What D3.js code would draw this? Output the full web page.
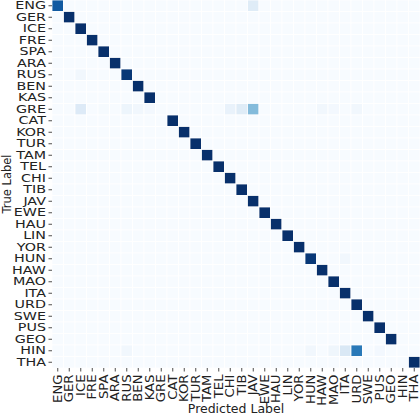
<!DOCTYPE html>
<html><head><meta charset="utf-8">
<script src="https://cdn.jsdelivr.net/npm/d3@7"></script>
<style>body{margin:0;background:#fff}svg{display:block}text{font-family:"DejaVu Sans",sans-serif}</style>
</head><body><svg id="c" width="420" height="416"></svg>
<script>
const labels = ["ENG","GER","ICE","FRE","SPA","ARA","RUS","BEN","KAS","GRE","CAT","KOR","TUR","TAM","TEL","CHI","TIB","JAV","EWE","HAU","LIN","YOR","HUN","HAW","MAO","ITA","URD","SWE","PUS","GEO","HIN","THA"];
// diagonal (correct) fraction per true label
const diagonal = [0.84,1,1,1,1,1,0.97,1,1,0,1,1,1,1,1,1,1,1,1,1,1,1,0.97,1,1,1,1,1,1,1,0,1];
// off-diagonal confusions: [true, predicted, fraction]
const confTrue = ["ENG","RUS","GRE","GRE","GRE","GRE","GRE","GRE","GRE","GRE","GRE","GRE","GRE","HUN","HIN","HIN","HIN","HIN","HIN","HIN"];
const confPred = ["JAV","ICE","ICE","RUS","BEN","KAS","CHI","TIB","JAV","HAW","MAO","URD","SPA","ITA","RUS","HUN","MAO","ITA","URD","PUS"];
const confVal  = [0.12,0.03,0.13,0.05,0.03,0.02,0.07,0.12,0.44,0.03,0.02,0.03,0.01,0.03,0.03,0.03,0.04,0.15,0.72,0.02];

const svg = d3.select("#c");
const x = d3.scaleBand().domain(labels).range([52,420]);
const y = d3.scaleBand().domain(labels).range([0,368]);
const color = d3.scaleSequential(d3.interpolateBlues).domain([0,1]);

const cells = [];
labels.forEach((t,i)=>labels.forEach((p,j)=>{
  cells.push({t,p,v: i===j ? diagonal[i] : 0});
}));
const idx = (t,p)=>labels.indexOf(t)*labels.length+labels.indexOf(p);
confTrue.forEach((t,k)=>{ cells[idx(t,confPred[k])].v = confVal[k]; });

svg.append("g").selectAll("rect").data(cells).join("rect")
  .attr("x",d=>x(d.p)).attr("y",d=>y(d.t))
  .attr("width",x.bandwidth()).attr("height",y.bandwidth())
  .attr("fill",d=>color(d.v))
  .attr("stroke","#fff").attr("stroke-width",0.8);

const ink = "#222";
const ya = svg.append("g").attr("transform","translate(52,0)")
  .call(d3.axisLeft(y).tickSize(3.5).tickPadding(2.5));
ya.select(".domain").remove();
ya.selectAll("line").attr("stroke",ink).attr("stroke-width",0.8);
ya.selectAll("text").attr("font-size",11).attr("fill",ink).attr("font-family","DejaVu Sans")
  .attr("x",0).attr("transform","translate(-6,0) scale(1.3,1)").attr("text-anchor","end");

const xa = svg.append("g").attr("transform","translate(0,368)")
  .call(d3.axisBottom(x).tickSize(3.5).tickPadding(2.5));
xa.select(".domain").remove();
xa.selectAll("line").attr("stroke",ink).attr("stroke-width",0.8);
xa.selectAll("text").attr("font-size",12).attr("fill",ink).attr("font-family","DejaVu Sans")
  .attr("transform","rotate(-90) scale(1.1,1)").attr("x",-6.5/1.1).attr("y",0).attr("dy","0.35em")
  .attr("text-anchor","end");

svg.append("text").attr("x",236).attr("y",413).attr("text-anchor","middle")
  .attr("font-size",12.5).attr("fill",ink).text("Predicted Label");
svg.append("text").attr("transform","translate(11,184) rotate(-90)").attr("text-anchor","middle")
  .attr("font-size",11.5).attr("fill",ink).text("True Label");
</script></body></html>
